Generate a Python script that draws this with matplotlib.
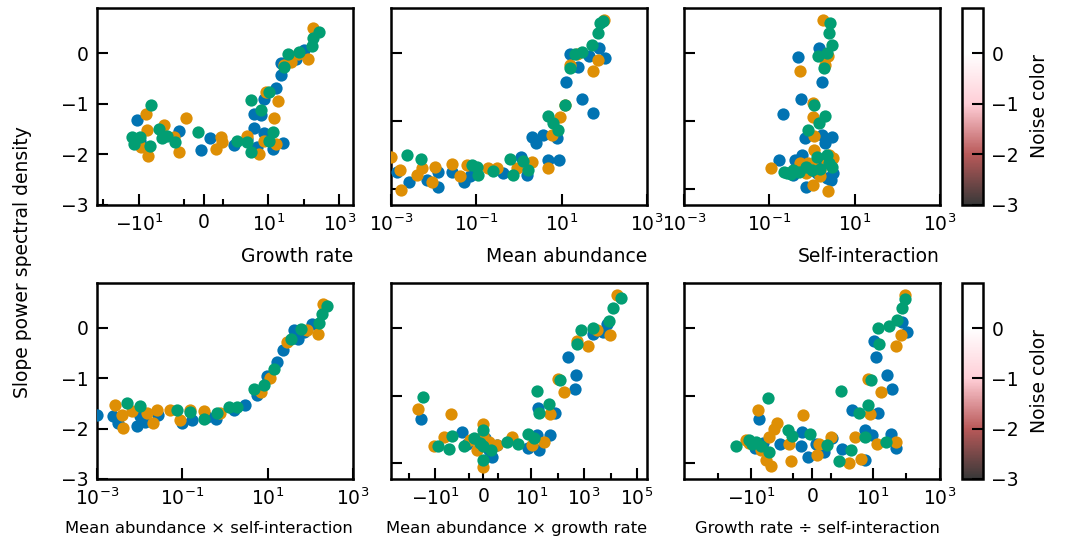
import matplotlib
matplotlib.use("Agg")
import matplotlib.pyplot as plt
from matplotlib.colors import LinearSegmentedColormap, Normalize, to_rgb
from matplotlib.cm import ScalarMappable
from matplotlib.ticker import NullLocator
import numpy as np

# colores de las tres series (paleta colorblind)
BLUE, ORANGE, GREEN = "#0173b2", "#de8f05", "#029e73"

# --- Tasa de crecimiento ---
gr_blue_x = [-11.4, -9.2, -1.26, -0.15, 0.35, 1.54, 2.64, 4.05, 4.05, 5.0, 6.25, 7.8, 7.76, 13.3, 16.5, 22.9, 22.9, 25.7, 60.4, 104]
gr_blue_y = [-1.33, -1.73, -1.53, -1.91, -1.68, -1.81, -1.70, -1.48, -1.20, -1.86, -1.23, -1.58, -0.90, -1.90, -0.68, -0.44, -0.19, -1.78, -0.11, 0.07]
gr_orange_x = [-8.6, -6.3, -6.0, -5.4, -2.03, -1.51, -1.26, -0.88, 0.61, 0.86, 0.95, 2.64, 5.7, 7.8, 8.6, 14.2, 16.5, 19.5, 28.5, 43.7, 67.6, 129, 178]
gr_orange_y = [-1.86, -1.20, -1.52, -2.03, -1.43, -1.66, -1.96, -1.28, -1.90, -1.66, -1.75, -1.63, -1.99, -1.73, -0.76, -1.28, -1.80, -0.95, -0.24, -0.17, -0.01, -0.11, 0.49]
gr_green_x = [-15.9, -14.2, -9.2, -4.8, -4.5, -2.8, -2.2, -1.84, -1.42, -0.29, 1.71, 2.64, 3.26, 3.26, 6.25, 10.7, 10.7, 13.3, 28.5, 35.5, 75, 166, 178, 274]
gr_green_y = [-1.66, -1.80, -1.66, -1.83, -1.02, -1.50, -1.68, -1.63, -1.76, -1.56, -1.73, -1.76, -1.96, -0.92, -1.13, -0.77, -1.73, -1.56, -0.27, -0.01, 0.03, 0.13, 0.29, 0.42]

# --- Abundancia media ---
ab_blue_x = [0.00141, 0.00269, 0.00692, 0.0123, 0.0129, 0.0263, 0.0501, 0.0708, 0.427, 1.10, 1.51, 2.0, 2.57, 3.72, 4.9, 7.6, 8.7, 12.3, 15.8, 24.5, 29.5, 42.7, 53.7, 75.9, 105]
ab_blue_y = [-1.74, -1.89, -1.86, -1.96, -1.74, -1.74, -1.89, -1.81, -1.76, -1.52, -1.79, -1.23, -1.32, -1.20, -1.57, -1.25, -1.57, -0.42, -0.02, -0.20, -0.67, -0.05, -0.88, 0.07, -0.07]
ab_orange_x = [0.001, 0.00162, 0.0017, 0.00398, 0.00525, 0.0107, 0.0089, 0.0263, 0.0417, 0.0589, 0.19, 0.30, 0.89, 2.0, 4.9, 6.0, 9.1, 12.0, 15.8, 22.4, 55, 72.4, 100]
ab_orange_y = [-1.52, -1.72, -2.01, -1.79, -1.69, -1.67, -1.89, -1.63, -1.81, -1.65, -1.68, -1.69, -1.69, -1.60, -1.69, -1.20, -0.94, -0.76, -0.17, -0.02, -0.27, -0.11, 0.49]
ab_green_x = [0.00234, 0.005, 0.0776, 0.112, 0.102, 0.251, 0.617, 0.741, 1.26, 1.66, 4.9, 6.3, 8.3, 12.0, 15.8, 20.4, 30.2, 52.5, 69.2, 79.4, 95.5]
ab_green_y = [-1.50, -1.56, -1.64, -1.79, -1.67, -1.73, -1.56, -1.79, -1.59, -1.72, -0.92, -1.02, -1.13, -0.76, -0.22, -0.02, 0.02, 0.12, 0.29, 0.44, 0.47]

# --- Autointeracción ---
si_blue_x = [0.479, 0.55, 0.204, 1.48, 1.74, 0.692, 1.70, 3.02, 2.0, 0.17, 0.398, 0.575, 0.363, 0.741, 1.29, 3.16, 1.86, 1.0, 2.24, 2.82]
si_blue_y = [-0.06, -0.67, -0.89, 0.07, -0.42, -1.25, -1.20, -1.23, -1.32, -1.57, -1.57, -1.50, -1.79, -1.96, -1.76, -1.76, -1.57, -1.72, -1.84, -1.86]
si_orange_x = [1.86, 0.537, 2.4, 2.0, 1.07, 1.05, 1.12, 1.12, 0.112, 0.525, 1.07, 2.19, 3.16, 1.07, 2.4, 0.741, 1.55, 2.5, 1.58, 0.79]
si_orange_y = [0.49, -0.26, -0.05, -0.17, -0.74, -0.94, -1.22, -1.42, -1.68, -1.62, -1.67, -1.62, -1.54, -1.94, -2.03, -1.76, -1.81, -1.50, -1.72, -1.62]
si_green_x = [2.63, 2.51, 3.02, 1.35, 2.19, 1.91, 1.12, 2.0, 1.48, 0.794, 0.219, 0.363, 0.741, 2.19, 2.88, 1.29, 0.257, 0.316, 0.5, 1.0, 1.58, 2.5]
si_green_y = [0.44, 0.30, 0.11, -0.04, 0.0, -0.22, -0.77, -0.93, -1.03, -1.13, -1.75, -1.71, -1.67, -1.50, -1.67, -1.52, -1.76, -1.78, -1.74, -1.72, -1.70, -1.62]

# --- Abundancia media x autointeracción ---
as_blue_x = [0.001, 0.0024, 0.00316, 0.0085, 0.0102, 0.0135, 0.0275, 0.0977, 0.17, 0.38, 0.603, 1.62, 3.02, 5.75, 9.77, 17.0, 23.4, 41.7, 50.1, 70.8, 112]
as_blue_y = [-1.73, -1.75, -1.89, -1.95, -1.75, -1.86, -1.73, -1.89, -1.83, -1.76, -1.80, -1.63, -1.53, -1.34, -0.96, -0.68, -0.43, -0.04, -0.22, -0.09, 0.08]
as_orange_x = [0.00263, 0.00417, 0.0038, 0.0066, 0.0148, 0.0204, 0.0251, 0.0525, 0.0891, 0.155, 0.316, 0.776, 6.9, 11.2, 28.8, 85, 148, 195]
as_orange_y = [-1.53, -1.99, -1.73, -1.66, -1.70, -1.88, -1.63, -1.63, -1.82, -1.63, -1.66, -1.70, -1.27, -0.99, -0.28, -0.05, -0.12, 0.47]
as_green_x = [0.005, 0.0102, 0.0741, 0.155, 0.316, 0.66, 1.23, 1.95, 4.8, 8.1, 14.1, 34.7, 60.3, 162, 186, 251]
as_green_y = [-1.50, -1.55, -1.63, -1.68, -1.80, -1.70, -1.57, -1.58, -1.22, -1.14, -0.81, -0.22, -0.02, 0.09, 0.28, 0.44]

# --- Abundancia media x tasa de crecimiento ---
ag_blue_x = [-33.9, -1.45, -1.11, 0.02, 0.36, 0.59, 0.93, 7.9, 16.5, 19, 17.4, 52.5, 81, 256, 457, 500, 2240, 5370, 7240, -0.3, 0.1]
ag_blue_y = [-1.34, -1.54, -1.71, -1.71, -1.80, -1.90, -1.73, -1.78, -1.58, -1.80, -1.19, -1.58, -1.26, -0.43, -0.90, -0.69, -0.09, -0.06, 0.06, -1.67, -1.62]
ag_orange_x = [-46.8, -11.0, -4.9, -2.57, -0.43, 0, 0, 0.36, 1.95, 10.7, 29.3, 52.5, 107, 178, 525, 1445, 3020, 9550, 17000, 0.9, -0.9, 0]
ag_orange_y = [-1.20, -1.75, -1.61, -1.27, -1.80, -1.42, -2.05, -1.68, -1.61, -1.73, -1.68, -1.27, -0.75, -0.95, -0.19, -0.27, -0.04, -0.10, 0.48, -1.73, -1.66, -1.58]
ag_green_x = [-29.3, -8.1, -3.2, -2.35, -1.33, -0.66, 0, 0, 0, 1.61, 3.3, 7.9, 12.3, 16.5, 19, 49, 126, 525, 760, 2240, 9100, 12900, 24000, 0.5, -0.2]
ag_green_y = [-1.02, -1.75, -1.79, -1.60, -1.75, -1.63, -1.51, -1.95, -1.75, -1.68, -1.71, -1.56, -1.63, -0.93, -1.25, -1.13, -0.77, -0.24, -0.03, 0.0, 0.10, 0.29, 0.44, -1.80, -1.70]

# --- Tasa de crecimiento / autointeracción ---
gs_blue_x = [-6.0, -1.73, -0.61, -0.52, -0.2, 0.2, 0.64, 1.08, 1.62, 2.46, 6.0, 6.0, 9.5, 10.7, 12.6, 14.5, 26.9, 38, 36, 49, 74, 105, -9.0, -7.5, -4.5]
gs_blue_y = [-1.34, -1.71, -1.75, -1.53, -1.91, -1.71, -1.83, -1.63, -1.79, -1.21, -1.51, -1.95, -1.58, -0.20, -0.43, -1.25, -0.69, -0.90, -1.57, -1.78, 0.08, -0.06, -1.72, -1.78, -1.70]
gs_orange_x = [-13.8, -6.3, -3.7, -2.96, -2.5, -2.07, -1.85, -1.23, -1.14, -0.46, 0.29, 0.38, 1.0, 2.02, 2.96, 4.4, 7.2, 8.5, 13.5, 17.4, 49, 50, 69, 89, -11.5, -5.0]
gs_orange_y = [-1.66, -1.21, -1.95, -1.61, -2.04, -1.50, -1.41, -1.71, -1.96, -1.28, -1.88, -1.71, -1.61, -2.0, -1.61, -1.93, -0.75, -1.27, -1.71, -0.95, -1.68, -0.27, -0.10, 0.48, -1.70, -1.80]
gs_green_x = [-27.6, -11.4, -7.2, -3.1, -2.96, -1.31, -1.05, -0.11, 0.82, 1.44, 1.53, 2.3, 3.9, 5.8, 7.2, 9.1, 14.2, 15.1, 24, 30, 53, 74, 89, -9.5, -5.2]
gs_green_y = [-1.75, -1.66, -1.68, -1.03, -1.83, -1.51, -1.60, -1.56, -1.73, -1.96, -0.93, -1.80, -1.25, -1.61, -1.14, -0.77, -0.01, -0.24, -1.68, 0.02, 0.11, 0.29, 0.43, -1.71, -1.74]

xlabels = ["Growth rate", "Mean abundance", "Self-interaction",
           "Mean abundance \u00d7 self-interaction", "Mean abundance \u00d7 growth rate",
           "Growth rate \u00f7 self-interaction"]

paneles = [
    (gr_blue_x, gr_blue_y, gr_orange_x, gr_orange_y, gr_green_x, gr_green_y),
    (ab_blue_x, ab_blue_y, ab_orange_x, ab_orange_y, ab_green_x, ab_green_y),
    (si_blue_x, si_blue_y, si_orange_x, si_orange_y, si_green_x, si_green_y),
    (as_blue_x, as_blue_y, as_orange_x, as_orange_y, as_green_x, as_green_y),
    (ag_blue_x, ag_blue_y, ag_orange_x, ag_orange_y, ag_green_x, ag_green_y),
    (gs_blue_x, gs_blue_y, gs_orange_x, gs_orange_y, gs_green_x, gs_green_y),
]

# escala de cada eje x
escalas = ["symlog", "log", "log", "log", "symlog", "symlog"]
xlims = [(-150, 2400), (1e-3, 1e3), (1e-3, 1e3), (1e-3, 1e3), (-480, 2.4e5), (-1000, 1000)]
xticks = [[-10, 0, 10, 1000], [1e-3, 1e-1, 1e1, 1e3], [1e-3, 1e-1, 1e1, 1e3],
          [1e-3, 1e-1, 1e1, 1e3], [-10, 0, 10, 1e3, 1e5], [-10, 0, 10, 1000]]
xminor = [[-100, -1, 1, 100], None, None, None, [-100, -1, 1, 100, 1e4], [-100, -1, 1, 100]]

plt.rcParams['font.family'] = ['DejaVu Sans']
fig = plt.figure(figsize=(10.65, 5.4), dpi=100)

lefts = [97, 391, 684]
bottoms = [205, 479]
anchos = 256
altos = [197, 196]

for i, datos in enumerate(paneles):
    fila, col = divmod(i, 3)
    ax = fig.add_axes([lefts[col] / 1065, 1 - bottoms[fila] / 540, anchos / 1065, altos[fila] / 540])
    bx, by, ox, oy, gx, gy = datos
    ax.scatter(bx, by, s=78, color=BLUE, linewidths=0, zorder=3)
    ax.scatter(ox, oy, s=78, color=ORANGE, linewidths=0, zorder=3)
    ax.scatter(gx, gy, s=78, color=GREEN, linewidths=0, zorder=3)

    if escalas[i] == "symlog":
        ax.set_xscale("symlog", linthresh=2, linscale=1)
    else:
        ax.set_xscale("log")
    ax.set_xlim(*xlims[i])
    ax.set_xticks(xticks[i])
    if xminor[i] is not None:
        ax.set_xticks(xminor[i], minor=True)
    else:
        ax.xaxis.set_minor_locator(NullLocator())

    if col == 0:
        ax.set_ylim(-3.0, 0.89)
        ax.set_yticks([0, -1, -2, -3])
    else:
        ax.set_ylim(-2.23, 0.66)
        ax.set_yticks([0, -1, -2])
        ax.tick_params(axis='y', labelleft=False)
    ax.yaxis.set_minor_locator(NullLocator())

    ax.tick_params(which='major', direction='in', length=8, width=1.5, labelsize=13.5, pad=6)
    ax.tick_params(which='minor', direction='in', length=4, width=1.5)
    for sp in ax.spines.values():
        sp.set_linewidth(1.8)

    tam = 13.5 if fila == 0 else 11.8
    ax.set_xlabel(xlabels[i], loc='right', fontsize=tam, labelpad=9)

# barras de color del "color de ruido"
colores = ['black', 'brown', 'pink', 'white', 'white']
niveles = [-3, -2, -1, 0, 0.9]
a = 0.78
mezcla = [tuple(a * c + (1 - a) for c in to_rgb(k)) for k in colores]
posiciones = [(v - niveles[0]) / (niveles[-1] - niveles[0]) for v in niveles]
cmap = LinearSegmentedColormap.from_list("ruido", list(zip(posiciones, mezcla)))
norm = Normalize(vmin=-3, vmax=0.9)

for fila in range(2):
    cax = fig.add_axes([962 / 1065, 1 - bottoms[fila] / 540, 21 / 1065, altos[fila] / 540])
    cb = fig.colorbar(ScalarMappable(norm=norm, cmap=cmap), cax=cax)
    cb.set_ticks([0, -1, -2, -3])
    cb.ax.tick_params(direction='in', length=8, width=1.5, labelsize=13.5, pad=6)
    cb.outline.set_linewidth(1.8)
    cb.set_label("Noise color", fontsize=13.5, labelpad=8)

fig.text(0.021, 0.515, "Slope power spectral density", rotation=90,
         ha='center', va='center', fontsize=13.5)

fig.savefig("out.png", dpi=100)
